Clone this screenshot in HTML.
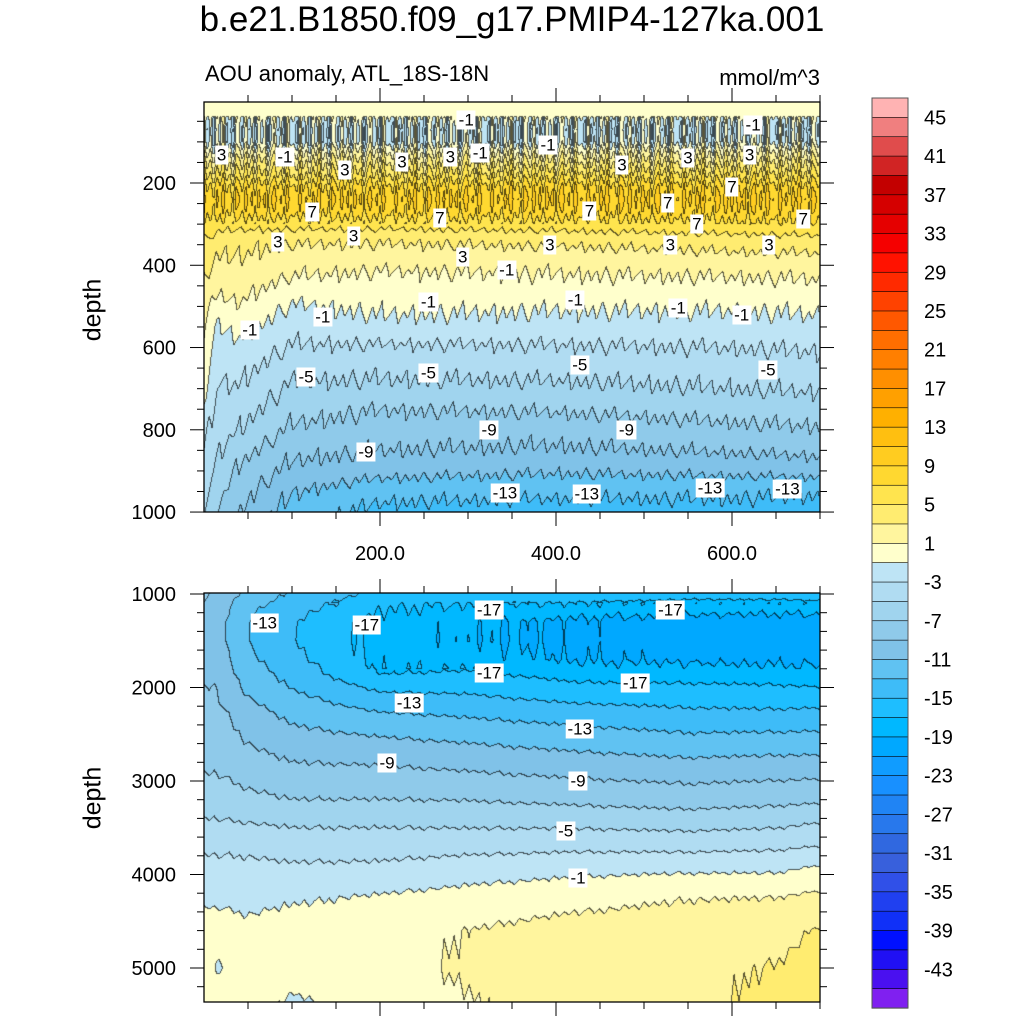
<!DOCTYPE html>
<html><head><meta charset="utf-8">
<style>
body{margin:0;background:#fff;}
#root{position:relative;width:1024px;height:1024px;background:#fff;font-family:"Liberation Sans",sans-serif;overflow:hidden;}
.t{position:absolute;white-space:nowrap;color:#000;}
canvas{position:absolute;}
.lbl{position:absolute;background:#fff;font-size:17px;padding:0 2px;line-height:19px;transform:translate(-50%,-50%);font-family:"Liberation Sans",sans-serif;}
</style></head><body>
<div id="root">
<div class="t" style="left:0;width:1024px;text-align:center;top:0px;font-size:35px;">b.e21.B1850.f09_g17.PMIP4-127ka.001</div>
<div class="t" style="left:205px;top:61px;font-size:22px;">AOU anomaly, ATL_18S-18N</div>
<div class="t" style="right:204px;top:65px;font-size:22px;">mmol/m^3</div>
<div class="t" style="left:93px;top:310px;font-size:25px;transform:translate(-50%,-50%) rotate(-90deg);">depth</div>
<div class="t" style="left:93px;top:798px;font-size:25px;transform:translate(-50%,-50%) rotate(-90deg);">depth</div>
<canvas id="cTop" width="616" height="410" style="left:204px;top:102px;"></canvas>
<canvas id="cBot" width="616" height="409" style="left:204px;top:593px;"></canvas>
<svg id="axes" width="1024" height="1024" style="position:absolute;left:0;top:0;"></svg>
<div id="labels"></div>
</div>
<script>
// ---------- data ----------
const LEVEL_COLORS = ["#ffb3b3","#f07f7f","#e04c4c","#d12424","#c30000","#d50000","#e50000","#f50000","#ff1200","#ff2a00","#ff4200","#ff5800","#ff6e00","#ff7f00","#ff8f00","#ffa000","#ffb000","#ffbf10","#ffcc20","#ffd830","#ffe44e","#ffec70","#fff59e","#ffffcc","#bee4f5","#b0dcf2","#a0d4ee","#8fcaea","#80c2e8","#60c2f2","#3ebcf8","#1ebeff","#00b8ff","#00a8ff","#109cff","#1890ff","#2084f4","#2878ec","#3068e0","#3860dc","#3050e8","#2040f0","#1030f8","#0010ff","#2010f4","#4a10f0","#8020f0"];
const CBAR_LABELS = [45,41,37,33,29,25,21,17,13,9,5,1,-3,-7,-11,-15,-19,-23,-27,-31,-35,-39,-43];

const TOP_X = [0,15,40,100,200,400,600,700];
const TOP_DEPTH = [0,30,50,70,100,120,150,180,210,240,270,300,340,380,420,460,500,550,600,650,700,750,800,850,900,950,1000];
const TOP_V0   = [0.3,0,-1,-1.5,-1,0.5,3,5,7.5,8.5,8,6.5,5,4,3,2,1.5,1,0.5,0.2,-0.2,-1.2,-2,-2.7,-3.4,-4.2,-5];
const TOP_V15  = [0.3,0,-1,-1.6,-1.2,0.5,3,5,7.5,8.5,7.8,6,4,3,2.3,1.5,0.3,-1.2,-1.8,-2.5,-3.2,-3.7,-4.2,-4.7,-5.4,-6.3,-7.2];
const TOP_V40  = [0.3,0,-1,-1.8,-1.5,0.5,3,5,7.5,8.8,7.8,5.8,3.5,3,2.3,1.6,0.8,-0.4,-1.5,-2.4,-3.2,-4.2,-5,-6.3,-7.4,-8.2,-9];
const TOP_V100 = [0.3,0,-1,-1.8,-1.5,0.5,3,5,7.5,8.8,7.8,5.8,3.3,2,1.2,0,-1.2,-2.2,-3.2,-4.3,-5.4,-6.3,-7.3,-8.5,-9.5,-10.9,-11.8];
const TOP_V200 = [0.3,0,-1,-1.8,-1.5,0.5,3,5,7.5,8.8,7.8,5.8,3.2,2,0.8,0,-0.6,-1.6,-3.3,-4.5,-5.5,-7,-8,-9,-10.3,-12.3,-13.6];
const TOP_V400 = [0.3,0,-1.2,-2,-1.5,0.5,3,5.5,8,9,8,6,3.5,2,1,0.2,-0.8,-1.8,-3.2,-4.3,-5.5,-6.8,-8.2,-9.3,-10.8,-12.5,-14];
const TOP_V600 = [0.3,0,-1.2,-2,-1.2,0.8,3.2,5.5,8,9.2,8.3,6.5,4,2.5,1.2,0.2,-0.8,-1.8,-3,-4.1,-5,-6.2,-7.5,-8.8,-10.5,-12.6,-13.8];
const TOP_V700 = [0.3,0,-1,-1.8,-1,1,3.5,5.5,7.8,9,8.2,6.8,4.2,2.6,1.3,0.4,-0.6,-1.6,-2.8,-3.8,-4.8,-6,-7.2,-8.5,-10.2,-12.8,-14];
const TOP_VALUES = [TOP_V0,TOP_V15,TOP_V40,TOP_V100,TOP_V200,TOP_V400,TOP_V600,TOP_V700];

const BOT_X = [0,15,50,100,200,300,420,550,650,700];
const BOT_DEPTH = [1000,1150,1300,1500,1700,1850,2000,2300,2600,2900,3200,3450,3700,3950,4250,4600,5000,5375];
const BOT_V0   = [-8.5,-9.5,-10,-10.3,-10,-9.5,-9,-8.5,-7.8,-7.1,-6,-4.8,-3.4,-2.4,-1.6,0.3,0.3,0.5];
const BOT_V15  = [-9.5,-10,-10.3,-10.3,-10,-9.5,-9,-8.5,-7.8,-7.1,-6,-4.8,-3.4,-2.4,-1.6,0.3,-1.3,0.5];
const BOT_V50  = [-11.5,-12.5,-13,-13,-12.5,-12,-11.5,-10,-9,-7.8,-6.5,-5,-3.5,-2.4,-1.6,-0.5,0.5,0.5];
const BOT_V100 = [-13.3,-14.2,-14.8,-14.9,-14.4,-13.8,-13.1,-11.5,-10,-8.5,-7,-5.3,-3.9,-2.6,-1.3,0,0.2,-1.5];
const BOT_V200 = [-15.5,-16.8,-17.6,-17.8,-17.5,-17.1,-15.5,-12.7,-10.5,-8.6,-7,-5.3,-3.9,-2.5,-0.8,0.3,0.3,0.3];
const BOT_V300 = [-16,-17.4,-18.6,-18.8,-18,-16.8,-15.6,-13.2,-11,-9,-7.1,-5.4,-3.7,-1.9,-0.3,1,1.3,0.8];
const BOT_V420 = [-16,-17.6,-19.4,-19.6,-19.2,-17.7,-16.6,-13.8,-11.6,-9.5,-7.5,-5.5,-3.5,-1.5,0.3,1.8,2,2.2];
const BOT_V550 = [-16.3,-18,-20,-20,-19.5,-17.8,-16.7,-14.4,-12.2,-9.9,-7.9,-5.8,-3.6,-1.3,0.9,2.1,2.4,2.5];
const BOT_V650 = [-16.3,-18,-20.2,-20.2,-19.6,-18,-16.8,-14.5,-12,-9.7,-7.6,-5.5,-3.4,-1.3,1,2.2,3.1,3.5];
const BOT_V700 = [-16,-18,-20,-20.2,-19.5,-18.3,-17,-14.3,-12,-9.6,-7.4,-5,-3,-0.6,1.5,3.2,3.9,4.3];
const BOT_VALUES = [BOT_V0,BOT_V15,BOT_V50,BOT_V100,BOT_V200,BOT_V300,BOT_V420,BOT_V550,BOT_V650,BOT_V700];

const STRIPES = [1.2,-0.8,0.5,-1.5,0.9,-0.3,1.6,-1.1,0.2,-1.7,1.0,0.4,-0.9,1.4,-0.6,0.7,-1.3,1.1,-0.2,0.8,-1.6,0.3,1.3,-0.7,0.6,-1.2,1.5,-0.4,0.1,-1.0];
const JAGS = [0.3,-0.2,0.4,-0.4,0.1,0.5,-0.3,0.2,-0.5,0.3,0.0,-0.3,0.4,-0.1,0.2,-0.4,0.5,-0.2];

const TOP_LABEL_X = [298,20,92,160,225,280,314,391,475,550,620,624,123,268,438,527,600,560,681,84,170,294,393,530,642,344,52,135,255,422,539,611,116,255,427,641,184,324,480,342,435,575,663];
const TOP_LABEL_D = [47,132,137,168,149,137,127,108,156,139,132,59,270,285,268,249,210,300,287,343,329,380,351,351,351,411,557,526,489,484,504,521,672,662,642,655,854,800,800,954,956,941,944];
const TOP_LABEL_T = ["-1","3","-1","3","3","3","-1","-1","3","3","3","-1","7","7","7","7","7","7","7","3","3","3","3","3","3","-1","-1","-1","-1","-1","-1","-1","-5","-5","-5","-5","-9","-9","-9","-13","-13","-13","-13"];
const BOT_LABEL_X = [69,185,324,530,324,490,233,427,208,425,411,425];
const BOT_LABEL_D = [1310,1332,1171,1171,1845,1952,2166,2444,2807,3000,3535,4037];
const BOT_LABEL_T = ["-13","-17","-17","-17","-17","-17","-13","-13","-9","-9","-5","-1"];

// ---------- axes functions ----------
const X0=204, XS=0.88;
function xPx(x){return X0+XS*x;}
function yTop(d){return 100.75+0.4113*d;}
function yBot(d){return 594+(d-1000)*0.0935;}
function xInv(px){return (px-X0)/XS;}
function dTopInv(py){return (py-100.75)/0.4113;}
function dBotInv(py){return 1000+(py-594)/0.0935;}

function interp1(arr,v){
  if(v<=arr[0]) return [0,0];
  for(let i=0;i<arr.length-1;i++){ if(v<=arr[i+1]) return [i,(v-arr[i])/(arr[i+1]-arr[i])]; }
  return [arr.length-2,1];
}
function field(xs,ds,vals,x,d){
  const [i,tx]=interp1(xs,x), [j,td]=interp1(ds,d);
  const a=vals[i][j]*(1-td)+vals[i][j+1]*td;
  const b=vals[i+1][j]*(1-td)+vals[i+1][j+1]*td;
  return a*(1-tx)+b*tx;
}
function cyc(arr,p,step){
  const f=p/step, i=Math.floor(f), t=f-i;
  const a=arr[((i%arr.length)+arr.length)%arr.length], b=arr[(((i+1)%arr.length)+arr.length)%arr.length];
  return a*(1-t)+b*t;
}
function levelIndex(v){ let i=Math.floor((47-v)/2); return Math.max(0,Math.min(46,i)); }
function hex(c){return [parseInt(c.slice(1,3),16),parseInt(c.slice(3,5),16),parseInt(c.slice(5,7),16)];}
const RGB = LEVEL_COLORS.map(hex);

function renderPanel(canvas,top,xs,ds,vals,dInv,texture){
  const ctx=canvas.getContext('2d'), W=canvas.width, H=canvas.height;
  const img=ctx.createImageData(W,H), idx=new Int16Array(W*H);
  for(let py=0;py<H;py++){
    const d=dInv(top+py+0.5);
    for(let px=0;px<W;px++){
      const x=xInv(X0+px+0.5);
      let v=field(xs,ds,vals,x,d)+texture(px,py,d);
      idx[py*W+px]=levelIndex(v);
    }
  }
  for(let p=0;p<W*H;p++){
    const px=p%W, py=(p/W)|0, k=idx[p];
    let c=RGB[k], dark=false;
    if(px<W-1 && idx[p+1]!==k) dark=true;
    if(py<H-1 && idx[p+W]!==k) dark=true;
    const o=p*4;
    if(dark){ img.data[o]=c[0]*0.35; img.data[o+1]=c[1]*0.35; img.data[o+2]=c[2]*0.35; }
    else { img.data[o]=c[0]; img.data[o+1]=c[1]; img.data[o+2]=c[2]; }
    img.data[o+3]=255;
  }
  ctx.putImageData(img,0,0);
}
renderPanel(document.getElementById('cTop'),102,TOP_X,TOP_DEPTH,TOP_VALUES,dTopInv,function(px,py,d){
  let w=0;
  if(d>40&&d<110) w=2.2; else if(d>=110&&d<300) w=1.6*(1-(d-110)/260)+0.4;
  let s=w*cyc(STRIPES,px,3.2);
  s+=cyc(JAGS,px+py*0.1,4.5)*(d>300?1.2:0.4);
  return s;
});
renderPanel(document.getElementById('cBot'),593,BOT_X,BOT_DEPTH,BOT_VALUES,dBotInv,function(px,py,d){
  let s=cyc(JAGS,px,5)*0.35;
  if(d>1100&&d<1800&&px>120) s+=cyc(STRIPES,px,6)*0.4;
  return s;
});

// ---------- axes ----------
const svg=document.getElementById('axes'), NS='http://www.w3.org/2000/svg';
function el(tag,attrs,name){const e=document.createElementNS(NS,tag);for(const k in attrs)e.setAttribute(k,attrs[k]);
  
  
  svg.appendChild(e);return e;}
function frame(y0,y1,name){el('rect',{x:204,y:y0,width:616,height:y1-y0,fill:'none',stroke:'#000','stroke-width':1.3},name);}
frame(102,512,'top-panel-frame'); frame(593,1002,'bottom-panel-frame');
const X_TICKS=[200,400,600];
function xTicks(y0,y1,pre){
  for(let x=50;x<=700;x+=50){
    const maj=X_TICKS.indexOf(x)>=0, L=maj?14:7, px=xPx(x);
    el('line',{x1:px,x2:px,y1:y0,y2:y0-L,stroke:'#000','stroke-width':1},pre+'-top-tick');
    el('line',{x1:px,x2:px,y1:y1,y2:y1+L,stroke:'#000','stroke-width':1},pre+'-bottom-tick');
  }
}
xTicks(102,512,'top-x'); xTicks(593,1002,'bot-x');
X_TICKS.forEach(v=>{const t=el('text',{x:xPx(v),y:560,'text-anchor':'middle','font-size':20,'font-family':'Liberation Sans, sans-serif'},'x-tick-label');t.textContent=v.toFixed(1);});
function yTicks(fn,d0,d1,step,majStep,pre){
  for(let d=d0;d<=d1;d+=step){
    const y=fn(d); const maj=d%majStep===0, L=maj?14:7;
    el('line',{x1:204,x2:204-L,y1:y,y2:y,stroke:'#000','stroke-width':1},pre+'-left-tick');
    el('line',{x1:820,x2:820+L,y1:y,y2:y,stroke:'#000','stroke-width':1},pre+'-right-tick');
    if(maj){const t=el('text',{x:176,y:y+7,'text-anchor':'end','font-size':20,'font-family':'Liberation Sans, sans-serif'},pre+'-tick-label');t.textContent=d;}
  }
}
yTicks(yTop,50,1000,50,200,'top-y');
yTicks(yBot,1000,5200,200,1000,'bot-y');

// ---------- colorbar ----------
const CB_X=872, CB_W=36, CB_Y=98, CB_H=910, nb=LEVEL_COLORS.length, bh=CB_H/nb;
LEVEL_COLORS.forEach((c,i)=>{el('rect',{x:CB_X,y:CB_Y+i*bh,width:CB_W,height:bh+0.3,fill:c,stroke:'#000','stroke-width':0.6},'colorbar-box');});
el('rect',{x:CB_X,y:CB_Y,width:CB_W,height:CB_H,fill:'none',stroke:'#555','stroke-width':1},'colorbar-frame');
CBAR_LABELS.forEach(v=>{const i=(47-v)/2; const t=el('text',{x:924,y:CB_Y+i*bh+7,'font-size':20,'font-family':'Liberation Sans, sans-serif'},'colorbar-label');t.textContent=v;});

// ---------- contour labels ----------
const lr=document.getElementById('labels');
function addLabel(x,y,txt){const d=document.createElement('div');d.className='lbl';d.style.left=x+'px';d.style.top=y+'px';d.textContent=txt;
  
  
  lr.appendChild(d);}
TOP_LABEL_T.forEach((t,i)=>addLabel(xPx(TOP_LABEL_X[i]),yTop(TOP_LABEL_D[i]),t));
BOT_LABEL_T.forEach((t,i)=>addLabel(xPx(BOT_LABEL_X[i]),yBot(BOT_LABEL_D[i]),t));
</script>
</body></html>
